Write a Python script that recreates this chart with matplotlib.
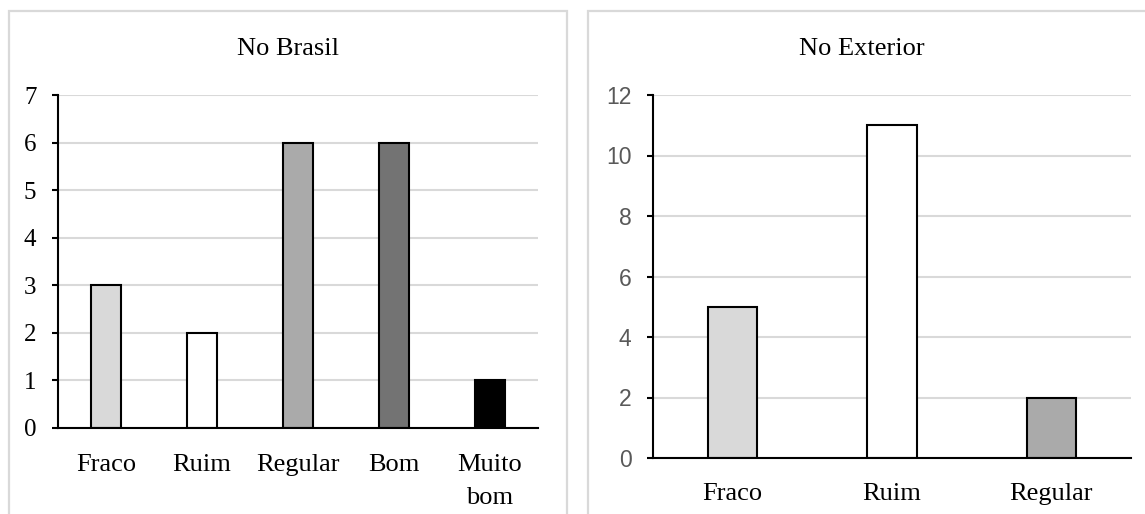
import matplotlib.pyplot as plt
from matplotlib.patches import Rectangle

# dados
cat_brasil = ['Fraco', 'Ruim', 'Regular', 'Bom', 'Muito\nbom']
val_brasil = [3, 2, 6, 6, 1]
cor_brasil = ['#d9d9d9', '#ffffff', '#aaaaaa', '#737373', '#000000']

cat_ext = ['Fraco', 'Ruim', 'Regular']
val_ext = [5, 11, 2]
cor_ext = ['#d9d9d9', '#ffffff', '#aaaaaa']

W, H = 1145, 514
fig = plt.figure(figsize=(W / 100, H / 100), dpi=100)
serif = 'Liberation Serif'
grid_c = '#d9d9d9'

# molduras dos dois graficos
for x0, x1 in [(9, 567), (588, 1150)]:
    fig.patches.append(Rectangle((x0 / W, -0.1), (x1 - x0) / W, 1.1 - 11 / H,
                                 transform=fig.transFigure, fill=False,
                                 edgecolor=grid_c, linewidth=1.6))


def estilo(ax, ymax, ystep, xpad):
    ax.set_ylim(0, ymax)
    ax.set_yticks(range(0, ymax + 1, ystep))
    ax.yaxis.grid(True, color=grid_c, linewidth=1.5)
    ax.set_axisbelow(True)
    for s in ['top', 'right']:
        ax.spines[s].set_visible(False)
    ax.spines['left'].set_linewidth(1.5)
    ax.spines['bottom'].set_linewidth(1.5)
    ax.tick_params(axis='x', length=0, pad=xpad)
    ax.tick_params(axis='y', length=4.5, width=1.5, pad=11)


# No Brasil
ax1 = fig.add_axes([58 / W, 1 - 428 / H, 480 / W, 333 / H])
ax1.bar(range(len(cat_brasil)), val_brasil, width=0.32, color=cor_brasil,
        edgecolor='black', linewidth=1.5)
ax1.set_xlim(-0.5, len(cat_brasil) - 0.5)
estilo(ax1, 7, 1, 19)
ax1.set_xticks(range(len(cat_brasil)))
ax1.set_xticklabels(cat_brasil, family=serif, fontsize=19, linespacing=1.65)
for t in ax1.get_yticklabels():
    t.set_family(serif)
    t.set_fontsize(18)
fig.text(288 / W, 1 - 49 / H, 'No Brasil', family=serif, fontsize=19,
         ha='center', va='center')

# No Exterior
ax2 = fig.add_axes([653 / W, 1 - 458 / H, 478 / W, 363 / H])
ax2.bar(range(len(cat_ext)), val_ext, width=0.31, color=cor_ext,
        edgecolor='black', linewidth=1.5)
ax2.set_xlim(-0.5, len(cat_ext) - 0.5)
estilo(ax2, 12, 2, 18)
ax2.set_xticks(range(len(cat_ext)))
ax2.set_xticklabels(cat_ext, family=serif, fontsize=19)
for t in ax2.get_yticklabels():
    t.set_family('Liberation Sans')
    t.set_fontsize(16.5)
    t.set_color('#595959')
fig.text(862 / W, 1 - 49 / H, 'No Exterior', family=serif, fontsize=19,
         ha='center', va='center')

fig.savefig('out.png', dpi=100)
